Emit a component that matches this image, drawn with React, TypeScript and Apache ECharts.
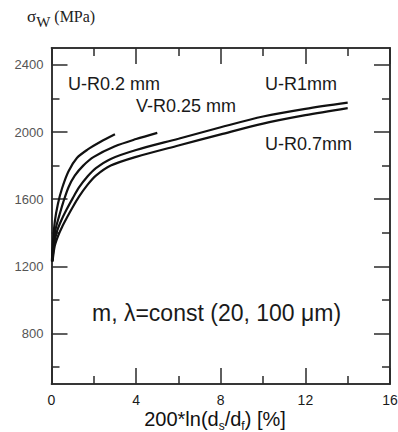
import React, { useEffect, useRef } from "react";
import * as echarts from "echarts";

const xMajor = [0, 4, 8, 12, 16];
const xMinor = [2, 6, 10, 14];
const yMajor = [800, 1200, 1600, 2000, 2400];
const yMinor = [600, 1000, 1400, 1800, 2200];

const uR02: [number, number][] = [
  [0.02, 1230], [0.07, 1350], [0.16, 1470], [0.3, 1570], [0.5, 1665],
  [0.8, 1765], [1.2, 1845], [1.7, 1895], [2.3, 1940], [3.0, 1986],
];
const vR025: [number, number][] = [
  [0.03, 1230], [0.1, 1350], [0.2, 1425], [0.35, 1495], [0.55, 1580],
  [0.8, 1670], [1.1, 1740], [1.5, 1800], [2.0, 1852], [3.0, 1915],
  [4.0, 1958], [5.0, 1995],
];
const uR1: [number, number][] = [
  [0.04, 1230], [0.12, 1330], [0.25, 1405], [0.45, 1470], [0.7, 1535],
  [1.0, 1605], [1.3, 1670], [1.7, 1735], [2.1, 1785], [2.8, 1840],
  [4.0, 1893], [6.0, 1960], [8.0, 2028], [10.0, 2092], [12.0, 2138], [14.0, 2175],
];
const uR07: [number, number][] = [
  [0.05, 1230], [0.15, 1320], [0.3, 1378], [0.5, 1435], [0.75, 1495],
  [1.0, 1552], [1.3, 1615], [1.7, 1685], [2.1, 1740], [2.8, 1800],
  [4.0, 1852], [6.0, 1920], [8.0, 1986], [10.0, 2050], [12.0, 2100], [14.0, 2142],
];

const curveLabels = [
  { text: "U-R0.2 mm", x: 68, y: 84 },
  { text: "V-R0.25 mm", x: 136, y: 106 },
  { text: "U-R1mm", x: 265, y: 84 },
  { text: "U-R0.7mm", x: 265, y: 144 },
];

const AXIS_COLOR = "#2a2a2a";
const SANS = "'Liberation Sans', Arial, sans-serif";
const SERIF = "'Liberation Serif', 'Times New Roman', serif";

function xAxisDef(position: "top" | "bottom", values: number[], len: number, labels: boolean) {
  return {
    type: "value",
    position,
    min: 0,
    max: 16,
    interval: 2,
    axisLine: { show: true, onZero: false, lineStyle: { color: AXIS_COLOR, width: 1.5 } },
    axisTick: { show: true, inside: true, length: len, customValues: values, lineStyle: { color: AXIS_COLOR, width: 1.5 } },
    axisLabel: labels
      ? { show: true, customValues: xMajor, margin: 9, fontSize: 14, color: "#1a1a1a", fontFamily: SANS, formatter: (v: number) => String(v) }
      : { show: false },
    splitLine: { show: false },
  };
}

function yAxisDef(position: "left" | "right", values: number[], len: number, labels: boolean) {
  return {
    type: "value",
    position,
    min: 500,
    max: 2500,
    axisLine: { show: true, onZero: false, lineStyle: { color: AXIS_COLOR, width: 1.5 } },
    axisTick: { show: true, inside: true, length: len, customValues: values, lineStyle: { color: AXIS_COLOR, width: 1.5 } },
    axisLabel: labels
      ? { show: true, customValues: yMajor, margin: 8, fontSize: 13, color: "#555", fontFamily: SANS, formatter: (v: number) => String(v) }
      : { show: false },
    splitLine: { show: false },
  };
}

function lineSeries(name: string, data: [number, number][]) {
  return {
    name,
    type: "line",
    data,
    xAxisIndex: 0,
    yAxisIndex: 0,
    smooth: 0.3,
    showSymbol: false,
    symbol: "none",
    lineStyle: { color: "#111", width: 2.2 },
    z: 5,
  };
}

export default function App() {
  const ref = useRef<HTMLDivElement>(null);
  useEffect(() => {
    if (!ref.current) return;
    const chart = echarts.init(ref.current, undefined, { renderer: "svg" });
    chart.setOption({
      animation: false,
      backgroundColor: "#ffffff",
      grid: { left: 51.5, right: 8, top: 48, bottom: 48, containLabel: false, outerBoundsMode: "none" },
      xAxis: [
        xAxisDef("bottom", xMajor, 16, true),
        xAxisDef("bottom", xMinor, 8, false),
        xAxisDef("top", xMajor, 16, false),
        xAxisDef("top", xMinor, 8, false),
      ],
      yAxis: [
        yAxisDef("left", yMajor, 16, true),
        yAxisDef("left", yMinor, 8, false),
        yAxisDef("right", yMajor, 16, false),
        yAxisDef("right", yMinor, 8, false),
      ],
      series: [
        lineSeries("U-R0.2 mm", uR02),
        lineSeries("V-R0.25 mm", vR025),
        lineSeries("U-R1mm", uR1),
        lineSeries("U-R0.7mm", uR07),
      ],
      graphic: [
        {
          type: "text",
          left: 27,
          top: 8,
          style: {
            text: "{s|σ}{w|W}{n| (MPa)}",
            fill: "#222",
            rich: {
              s: { fontSize: 17, fontFamily: SERIF, lineHeight: 26, verticalAlign: "middle", fill: "#222" },
              w: { fontSize: 15, fontFamily: SERIF, lineHeight: 16, verticalAlign: "bottom", fill: "#222" },
              n: { fontSize: 16, fontFamily: SERIF, lineHeight: 26, verticalAlign: "middle", fill: "#222" },
            },
          },
        },
        {
          type: "text",
          x: 215,
          y: 419,
          style: {
            text: "200*ln(d{sub|s}/d{sub|f}) [%]",
            fontSize: 20,
            fontFamily: SANS,
            fill: "#111",
            lineHeight: 26,
            align: "center",
            verticalAlign: "middle",
            rich: {
              sub: { fontSize: 12, lineHeight: 12, verticalAlign: "bottom", fill: "#111", fontFamily: SANS },
            },
          },
        },
        ...curveLabels.map((l) => ({
          type: "text",
          x: l.x,
          y: l.y,
          style: {
            text: l.text,
            fontSize: 18,
            fontFamily: SANS,
            fill: "#1a1a1a",
            verticalAlign: "middle",
          },
          z: 10,
        })),
        {
          type: "text",
          x: 92,
          y: 313,
          style: {
            text: "m, λ=const (20, 100 μm)",
            fontSize: 23,
            fontFamily: SANS,
            fill: "#1a1a1a",
            verticalAlign: "middle",
          },
          z: 10,
        },
      ],
    });
    return () => chart.dispose();
  }, []);
  return (
    <div
      ref={ref}
      style={{ position: "fixed", left: 0, top: 0, width: 398, height: 432, background: "#fff" }}
    />
  );
}
